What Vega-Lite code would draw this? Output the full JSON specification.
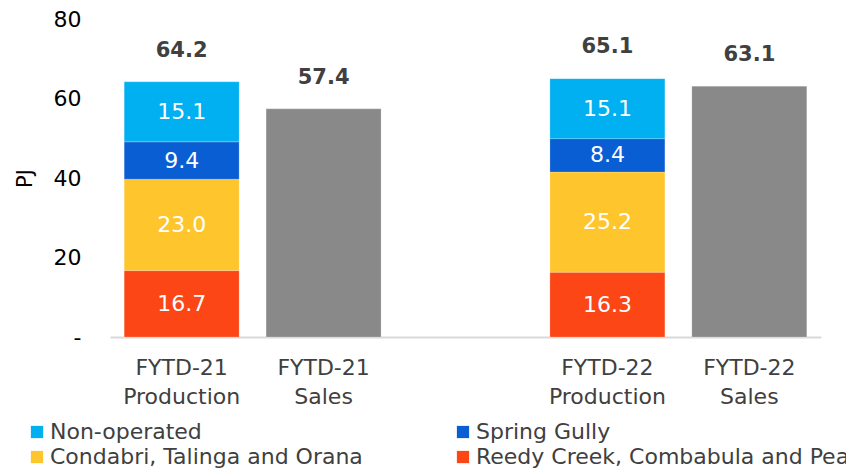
{
  "$schema": "https://vega.github.io/schema/vega-lite/v6.json",
  "autosize": {"type": "none"},
  "padding": {"left": 110, "top": 19, "right": 25, "bottom": 133},
  "width": 711,
  "height": 318,
  "background": "white",
  "config": {
    "font": "DejaVu Sans",
    "view": {"stroke": null},
    "axis": {"titleFontWeight": "normal"}
  },
  "datasets": {
    "bars": [
      {"cat": "FYTD-21 Production", "series": "Reedy Creek, Combabula and Peat", "value": 16.7},
      {"cat": "FYTD-21 Production", "series": "Condabri, Talinga and Orana", "value": 23.0},
      {"cat": "FYTD-21 Production", "series": "Spring Gully", "value": 9.4},
      {"cat": "FYTD-21 Production", "series": "Non-operated", "value": 15.1},
      {"cat": "FYTD-21 Sales", "series": "Sales", "value": 57.4},
      {"cat": "FYTD-22 Production", "series": "Reedy Creek, Combabula and Peat", "value": 16.3},
      {"cat": "FYTD-22 Production", "series": "Condabri, Talinga and Orana", "value": 25.2},
      {"cat": "FYTD-22 Production", "series": "Spring Gully", "value": 8.4},
      {"cat": "FYTD-22 Production", "series": "Non-operated", "value": 15.1},
      {"cat": "FYTD-22 Sales", "series": "Sales", "value": 63.1}
    ],
    "totals": [
      {"cat": "FYTD-21 Production", "total": 64.2},
      {"cat": "FYTD-21 Sales", "total": 57.4},
      {"cat": "FYTD-22 Production", "total": 65.1},
      {"cat": "FYTD-22 Sales", "total": 63.1}
    ]
  },
  "encoding": {
    "x": {
      "field": "cat",
      "type": "nominal",
      "sort": null,
      "scale": {
        "domain": ["FYTD-21 Production", "FYTD-21 Sales", "gap", "FYTD-22 Production", "FYTD-22 Sales"],
        "paddingInner": 0.19,
        "paddingOuter": 0.1
      },
      "axis": {
        "title": null,
        "labelAngle": 0,
        "labelExpr": "datum.value == 'gap' ? '' : split(datum.value, ' ')",
        "labelFontSize": 22,
        "labelLineHeight": 29,
        "labelColor": "#404040",
        "labelPadding": 20,
        "labelFont": "DejaVu Sans",
        "ticks": false,
        "domainColor": "#d9d9d9",
        "domainWidth": 2
      }
    }
  },
  "layer": [
    {
      "data": {"name": "bars"},
      "transform": [
        {"calculate": "indexof(['Reedy Creek, Combabula and Peat','Condabri, Talinga and Orana','Spring Gully','Non-operated','Sales'], datum.series)", "as": "rank"}
      ],
      "mark": {"type": "bar", "stroke": "white", "strokeWidth": 0.5, "strokeOpacity": 0.4},
      "encoding": {
        "y": {
          "field": "value",
          "type": "quantitative",
          "stack": "zero",
          "scale": {"domain": [0, 80], "nice": false},
          "axis": {
            "title": "PJ",
            "titleFontSize": 21,
            "titleFontWeight": 400,
            "titleColor": "#000000",
            "titlePadding": 18,
            "titleFont": "DejaVu Sans",
            "values": [0, 20, 40, 60, 80],
            "labelExpr": "datum.value == 0 ? '-' : datum.label",
            "labelFontSize": 22,
            "labelColor": "#000000",
            "labelPadding": 29,
            "labelFont": "DejaVu Sans",
            "grid": false,
            "domain": false,
            "ticks": false
          }
        },
        "color": {
          "field": "series",
          "type": "nominal",
          "scale": {
            "domain": ["Non-operated", "Condabri, Talinga and Orana", "Spring Gully", "Reedy Creek, Combabula and Peat", "Sales"],
            "range": ["#00B0F0", "#FFC52D", "#0A5ED4", "#FC4616", "#898989"]
          },
          "legend": {
            "values": ["Non-operated", "Condabri, Talinga and Orana", "Spring Gully", "Reedy Creek, Combabula and Peat"],
            "title": null,
            "orient": "none",
            "legendX": -84,
            "legendY": 402,
            "columns": 2,
            "columnPadding": 89,
            "rowPadding": 3,
            "padding": 0,
            "symbolType": "square",
            "symbolSize": 150,
            "symbolStrokeWidth": 0,
            "labelOffset": 2,
            "labelFontSize": 22,
            "labelColor": "#404040",
            "labelFont": "DejaVu Sans",
            "labelLimit": 500
          }
        },
        "order": {"field": "rank", "type": "quantitative"}
      }
    },
    {
      "data": {"name": "bars"},
      "transform": [
        {"filter": "datum.series != 'Sales'"},
        {"calculate": "indexof(['Reedy Creek, Combabula and Peat','Condabri, Talinga and Orana','Spring Gully','Non-operated'], datum.series)", "as": "rank"},
        {"stack": "value", "groupby": ["cat"], "sort": [{"field": "rank", "order": "ascending"}], "as": ["v0", "v1"]},
        {"calculate": "(datum.v0 + datum.v1) / 2", "as": "mid"}
      ],
      "mark": {"type": "text", "color": "white", "fontSize": 22, "font": "DejaVu Sans", "baseline": "middle"},
      "encoding": {
        "y": {"field": "mid", "type": "quantitative"},
        "text": {"field": "value", "type": "quantitative", "format": ".1f"}
      }
    },
    {
      "data": {"name": "totals"},
      "mark": {"type": "text", "color": "#404040", "fontSize": 21, "fontWeight": "bold", "font": "DejaVu Sans", "baseline": "middle", "dy": -31},
      "encoding": {
        "y": {"field": "total", "type": "quantitative"},
        "text": {"field": "total", "type": "quantitative", "format": ".1f"}
      }
    }
  ]
}
